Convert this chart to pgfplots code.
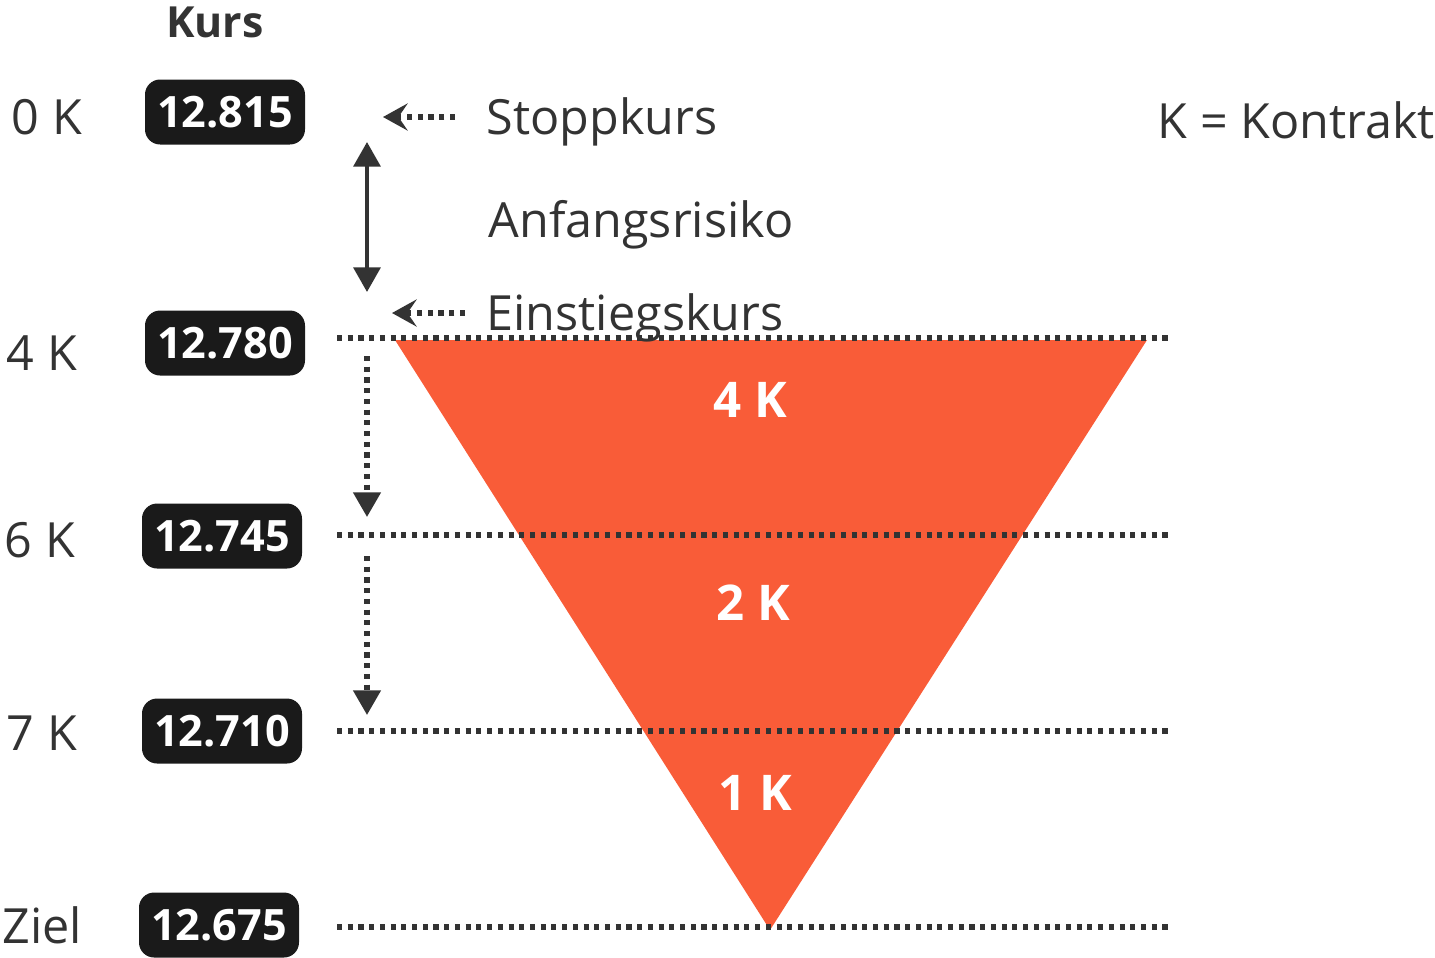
\documentclass[border=0pt]{standalone}
\usepackage{pgfplots}
\pgfplotsset{compat=1.18}
\usepackage{fontspec}
\setmainfont{Open Sans}
\usetikzlibrary{arrows.meta}
\definecolor{txt}{HTML}{333333}
\definecolor{boxc}{HTML}{1A1A1A}
\definecolor{tri}{HTML}{F95C38}

\tikzset{
  dots/.style={txt, line width=1.45pt, line cap=butt, dash pattern=on 1.45pt off 1.6pt},
  lbl/.style={txt, inner sep=0pt, anchor=base west, font=\fontsize{13.8}{15}\selectfont},
  num/.style={fill=boxc, text=white, rounded corners=4.3pt, minimum width=1.6cm,
    minimum height=0.65cm, inner sep=0pt, font=\fontsize{12.3}{14}\selectfont\bfseries},
  inK/.style={text=white, inner sep=0pt, font=\fontsize{14}{15}\selectfont\bfseries},
}

\begin{document}
\begin{tikzpicture}
\begin{axis}[
  scale only axis, width=14.35cm, height=9.57cm,
  xmin=0, xmax=1435, ymin=0, ymax=957, y dir=reverse,
  hide axis, clip=false,
]
% Risikodreieck
\addplot[fill=tri, draw=none] coordinates {(395,340) (1147,340) (770,930)} -- cycle;

% Kursniveaus
\addplot[dots] coordinates {(337,338) (1168,338)};
\addplot[dots] coordinates {(337,535) (1168,535)};
\addplot[dots] coordinates {(337,731) (1168,731)};
\addplot[dots] coordinates {(337,927) (1168,927)};

% Pfeile
\addplot[txt, line width=1.15pt, {Triangle[length=7pt, width=7.6pt]}-{Triangle[length=7pt, width=7.6pt]}]
  coordinates {(367,142) (367,292)};
\addplot[dots, -{Stealth[length=7pt, width=7.7pt, inset=2.6pt]}] coordinates {(455,117) (383,117)};
\addplot[dots, -{Stealth[length=7pt, width=7.7pt, inset=2.6pt]}] coordinates {(465,313) (392,313)};
\addplot[dots, -{Triangle[length=7pt, width=7.6pt]}] coordinates {(367,356) (367,517)};
\addplot[dots, -{Triangle[length=7pt, width=7.6pt]}] coordinates {(367,556) (367,715)};

% Beschriftung
\node[txt, anchor=base, inner sep=0pt, font=\fontsize{12.2}{13}\selectfont\bfseries] at (axis cs:215,37) {Kurs};
\node[lbl] at (axis cs:11,134) {0 K};
\node[lbl] at (axis cs:6,370) {4 K};
\node[lbl] at (axis cs:4,557) {6 K};
\node[lbl] at (axis cs:6,750) {7 K};
\node[lbl] at (axis cs:2,943) {Ziel};

\node[num] at (axis cs:225,112) {12.815};
\node[num] at (axis cs:225,343) {12.780};
\node[num] at (axis cs:222,536) {12.745};
\node[num] at (axis cs:222,731) {12.710};
\node[num] at (axis cs:219,925) {12.675};

\node[lbl] at (axis cs:486,134) {Stoppkurs};
\node[lbl] at (axis cs:488,237) {Anfangsrisiko};
\node[lbl] at (axis cs:486,330) {Einstiegskurs};
\node[lbl] at (axis cs:1157,138) {K = Kontrakt};

\node[inK] at (axis cs:750,400) {4 K};
\node[inK] at (axis cs:753,603) {2 K};
\node[inK] at (axis cs:755,793) {1 K};
\end{axis}
\pgfresetboundingbox
\path[use as bounding box] (0,0) rectangle (14.35cm,9.57cm);
\end{tikzpicture}
\end{document}
